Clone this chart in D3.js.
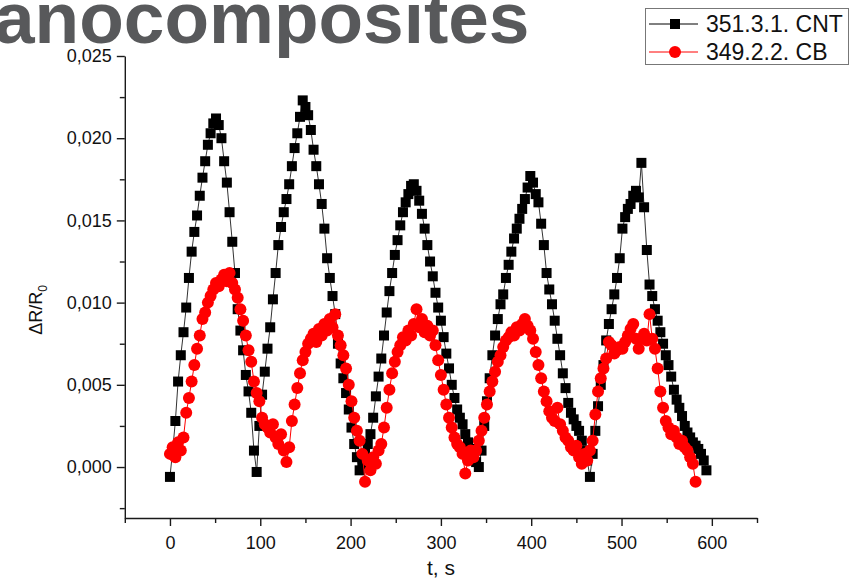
<!DOCTYPE html>
<html><head><meta charset="utf-8">
<script src="https://cdn.jsdelivr.net/npm/d3@7"></script>
<style>
body{margin:0;background:#fff}
svg{display:block}
text{font-family:"Liberation Sans",Arial,Helvetica,sans-serif}
</style>
</head><body>
<svg id="c" width="864" height="578"></svg>
<script>
// ---- data ----
const timeCNT = [0,3,6,9,12,15,18,21,24,27,30,33,36,39,42,45,48,51,54,57,60,63,66,69,72,75,78,81,84,87,90,93,96,99,102,105,108,111,114,117,120,123,126,129,132,135,138,141,144,147,150,153,156,159,162,165,168,171,174,177,180,183,186,189,192,195,198,201,204,207,210,213,216,219,222,225,228,231,234,237,240,243,246,249,252,255,258,261,264,267,270,273,276,279,282,285,288,291,294,297,300,303,306,309,312,315,318,321,324,327,330,333,336,339,342,345,348,351,354,357,360,363,366,369,372,375,378,381,384,387,390,393,396,399,402,405,408,411,414,417,420,423,426,429,432,435,438,441,444,447,450,453,456,459,462,465,468,471,474,477,480,483,486,489,492,495,498,501,504,507,510,513,516,519,522,525,528,531,534,537,540,543,546,549,552,555,558,561,564,567,570,573,576,579,582,585,588,591,594];
const valCNT = [-0.0006,0.0010,0.0028,0.0052,0.0068,0.0082,0.0097,0.0115,0.0131,0.0143,0.0153,0.0165,0.0176,0.0186,0.0196,0.0203,0.0209,0.0212,0.0208,0.0200,0.0186,0.0173,0.0155,0.0137,0.0118,0.0096,0.0083,0.0071,0.0056,0.0046,0.0033,0.0010,-0.0003,0.0025,0.0044,0.0058,0.0072,0.0085,0.0102,0.0118,0.0135,0.0146,0.0155,0.0163,0.0172,0.0183,0.0194,0.0203,0.0213,0.0223,0.0219,0.0214,0.0205,0.0193,0.0183,0.0172,0.0160,0.0145,0.0127,0.0115,0.0104,0.0093,0.0075,0.0063,0.0054,0.0045,0.0035,0.0024,0.0014,0.0006,-0.0002,0.0002,0.0008,0.0014,0.0020,0.0030,0.0043,0.0055,0.0066,0.0080,0.0094,0.0107,0.0118,0.0129,0.0138,0.0147,0.0155,0.0161,0.0166,0.0171,0.0172,0.0168,0.0162,0.0154,0.0145,0.0135,0.0125,0.0116,0.0106,0.0097,0.0089,0.0079,0.0069,0.0060,0.0050,0.0042,0.0035,0.0030,0.0026,0.0020,0.0015,0.0011,0.0007,0.0003,0.0000,0.0010,0.0025,0.0040,0.0054,0.0068,0.0080,0.0090,0.0099,0.0105,0.0115,0.0123,0.0131,0.0139,0.0145,0.0151,0.0157,0.0163,0.0170,0.0177,0.0173,0.0166,0.0161,0.0148,0.0135,0.0118,0.0108,0.0099,0.0089,0.0078,0.0068,0.0057,0.0048,0.0039,0.0033,0.0029,0.0025,0.0022,0.0016,0.0010,0.0004,-0.0006,0.0008,0.0022,0.0037,0.0050,0.0062,0.0077,0.0087,0.0096,0.0105,0.0115,0.0127,0.0145,0.0152,0.0157,0.0160,0.0165,0.0168,0.0164,0.0185,0.0158,0.0132,0.0111,0.0104,0.0096,0.0089,0.0082,0.0075,0.0068,0.0062,0.0055,0.0047,0.0041,0.0036,0.0031,0.0025,0.0021,0.0018,0.0015,0.0013,0.0011,0.0008,0.0004,-0.0002];

const timeCB = [0,3,6,9,12,15,18,21,24,27,30,33,36,39,42,45,48,51,54,57,60,63,66,69,72,75,78,81,84,87,90,93,96,99,102,105,108,111,114,117,120,123,126,129,132,135,138,141,144,147,150,153,156,159,162,165,168,171,174,177,180,183,186,189,192,195,198,201,204,207,210,213,216,219,222,225,228,231,234,237,240,243,246,249,252,255,258,261,264,267,270,273,276,279,282,285,288,291,294,297,300,303,306,309,312,315,318,321,324,327,330,333,336,339,342,345,348,351,354,357,360,363,366,369,372,375,378,381,384,387,390,393,396,399,402,405,408,411,414,417,420,423,426,429,432,435,438,441,444,447,450,453,456,459,462,465,468,471,474,477,480,483,486,489,492,495,498,501,504,507,510,513,516,519,522,525,528,531,534,537,540,543,546,549,552,555,558,561,564,567,570,573,576,579,582];
const valCB = [0.0008,0.0012,0.0006,0.0015,0.0010,0.0018,0.0033,0.0042,0.0052,0.0062,0.0072,0.0080,0.0090,0.0094,0.0100,0.0104,0.0108,0.0112,0.0110,0.0114,0.0117,0.0113,0.0118,0.0112,0.0108,0.0103,0.0096,0.0089,0.0080,0.0071,0.0064,0.0052,0.0045,0.0040,0.0030,0.0026,0.0024,0.0021,0.0026,0.0018,0.0014,0.0020,0.0010,0.0003,0.0012,0.0028,0.0038,0.0048,0.0057,0.0065,0.0070,0.0075,0.0078,0.0081,0.0076,0.0084,0.0080,0.0087,0.0083,0.0090,0.0085,0.0093,0.0080,0.0074,0.0068,0.0060,0.0050,0.0040,0.0030,0.0022,0.0016,0.0008,-0.0009,0.0004,-0.0002,0.0006,0.0002,0.0010,0.0014,0.0024,0.0036,0.0047,0.0057,0.0064,0.0070,0.0074,0.0079,0.0077,0.0083,0.0080,0.0087,0.0096,0.0085,0.0090,0.0082,0.0086,0.0080,0.0083,0.0074,0.0065,0.0056,0.0047,0.0038,0.0030,0.0024,0.0018,0.0014,0.0012,0.0008,-0.0004,0.0004,0.0010,0.0006,0.0010,0.0016,0.0022,0.0030,0.0038,0.0046,0.0052,0.0058,0.0064,0.0068,0.0073,0.0077,0.0079,0.0082,0.0080,0.0085,0.0083,0.0087,0.0090,0.0086,0.0083,0.0078,0.0070,0.0062,0.0054,0.0046,0.0040,0.0034,0.0030,0.0028,0.0036,0.0026,0.0022,0.0018,0.0016,0.0012,0.0010,0.0013,0.0006,0.0002,0.0008,0.0004,0.0010,0.0016,0.0032,0.0046,0.0054,0.0060,0.0066,0.0076,0.0074,0.0069,0.0071,0.0073,0.0072,0.0076,0.0080,0.0084,0.0087,0.0078,0.0072,0.0078,0.0081,0.0077,0.0093,0.0078,0.0072,0.0060,0.0046,0.0036,0.0028,0.0024,0.0020,0.0022,0.0018,0.0014,0.0016,0.0012,0.0010,0.0006,0.0002,-0.0009];

const xTickValues = [0,100,200,300,400,500,600];
const xMinorTicks = [-50,50,150,250,350,450,550,650];
const yTickValues = [0,0.005,0.010,0.015,0.020,0.025];
const yMinorTicks = [-0.0025,0.0025,0.0075,0.0125,0.0175,0.0225];
const seriesNames = ["351.3.1. CNT","349.2.2. CB"];
const seriesColors = ["#000000","#ff0000"];
const titleText = "anocomposites";
const xLabel = "t, s";

// ---- chart ----
const svg = d3.select("#c");
const x = d3.scaleLinear().domain([-50,650]).range([124.8,757]);
const y = d3.scaleLinear().domain([-0.0031,0.025]).range([518,56]);

svg.append("text").attr("x",-6).attr("y",43)
  .attr("font-size",73).attr("font-weight","bold").attr("fill","#58595b")
  .text(titleText);

const axisColor = "#1a1a1a";
const fmtY = v => d3.format(".3f")(v).replace(".", ",");

// x axis
const gx = svg.append("g").attr("transform","translate(0,518)");
gx.call(d3.axisBottom(x).tickValues(xTickValues).tickSize(8).tickSizeOuter(0).tickPadding(10).tickFormat(d3.format("d")));
svg.append("g").attr("transform","translate(0,518)")
  .call(d3.axisBottom(x).tickValues(xMinorTicks).tickSize(5).tickSizeOuter(0).tickFormat(""))
  .select(".domain").remove();
// y axis
const gy = svg.append("g").attr("transform","translate(124.8,0)");
gy.call(d3.axisLeft(y).tickValues(yTickValues).tickSize(8).tickSizeOuter(0).tickPadding(5).tickFormat(fmtY));
svg.append("g").attr("transform","translate(124.8,0)")
  .call(d3.axisLeft(y).tickValues(yMinorTicks).tickSize(5).tickSizeOuter(0).tickFormat(""))
  .select(".domain").remove();

svg.selectAll(".domain, .tick line").attr("stroke",axisColor).attr("stroke-width",1.4);
gx.selectAll(".tick text").attr("font-size",18).attr("fill","#111");
gy.selectAll(".tick text").attr("font-size",18).attr("fill","#111");

// axis labels
svg.append("text").attr("x",441).attr("y",575).attr("text-anchor","middle")
  .attr("font-size",21).attr("fill","#111").text(xLabel);
const yl = svg.append("text").attr("transform","translate(42,310) rotate(-90)")
  .attr("text-anchor","middle").attr("font-size",18).attr("fill","#111");
yl.append("tspan").text("\u0394R/R");
yl.append("tspan").attr("font-size",12).attr("dy",5).text("0");

// series
const line = d3.line().x(d=>x(d.t)).y(d=>y(d.v));
const cnt = timeCNT.map((t,i)=>({t, v: valCNT[i]}));
const cb = timeCB.map((t,i)=>({t, v: valCB[i]}));

svg.append("path").datum(cnt).attr("d",line).attr("fill","none").attr("stroke","#333").attr("stroke-width",1);
svg.append("g").selectAll("rect").data(cnt).join("rect")
  .attr("x",d=>x(d.t)-5).attr("y",d=>y(d.v)-5).attr("width",10).attr("height",10).attr("fill",seriesColors[0]);

svg.append("path").datum(cb).attr("d",line).attr("fill","none").attr("stroke",seriesColors[1]).attr("stroke-width",1);
svg.append("g").selectAll("circle").data(cb).join("circle")
  .attr("cx",d=>x(d.t)).attr("cy",d=>y(d.v)).attr("r",6).attr("fill",seriesColors[1]);

// legend
const lg = svg.append("g");
lg.append("rect").attr("x",645.5).attr("y",8.5).attr("width",203).attr("height",56)
  .attr("fill","#fff").attr("stroke","#777").attr("stroke-width",1);
seriesNames.forEach((name,i)=>{
  const yy = 24 + i*28;
  lg.append("line").attr("x1",649).attr("x2",698).attr("y1",yy).attr("y2",yy)
    .attr("stroke",seriesColors[i]).attr("stroke-width",1);
  if(i===0) lg.append("rect").attr("x",670).attr("y",yy-5).attr("width",10).attr("height",10).attr("fill",seriesColors[i]);
  else lg.append("circle").attr("cx",675).attr("cy",yy).attr("r",6).attr("fill",seriesColors[i]);
  lg.append("text").attr("x",706).attr("y",yy+8).attr("font-size",23).attr("fill","#111").text(name);
});
</script>
</body></html>
